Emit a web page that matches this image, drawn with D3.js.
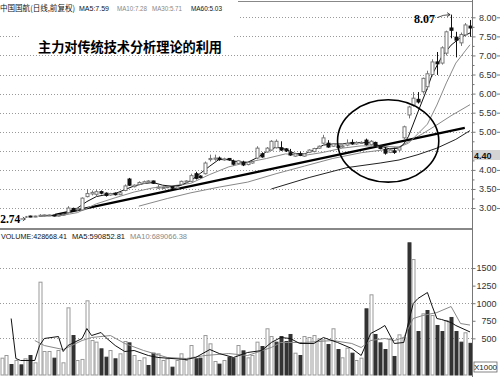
<!DOCTYPE html>
<html lang="zh">
<head>
<meta charset="UTF-8">
<title>中国国航 日线</title>
<script src="https://cdn.jsdelivr.net/npm/d3@7"></script>
<style>
  body { margin: 0; background: #fff; }
  svg { display: block; }
  .hdr { font-family: "Liberation Sans", Arial, sans-serif; font-size: 8px; }
  .cjk { font-family: "Noto Sans CJK SC", sans-serif; }
  .grid line { stroke: #999; stroke-width: 1; stroke-dasharray: 1, 2; }
  .axis text { font-family: "Liberation Sans", Arial, sans-serif; font-size: 9px; fill: #333; }
  .axis line { stroke: #777; }
  .axis path { display: none; }
</style>
</head>
<body>
<div id="chart"></div>
<script>
// daily candles (price in yuan)
var open  = [2.78,2.79,2.80,2.77,2.79,2.76,2.79,2.77,2.78,2.80,2.81,2.82,2.79,2.82,2.88,2.99,2.95,2.95,3.30,3.37,
             3.36,3.43,3.39,3.34,3.39,3.35,3.46,3.76,3.56,3.62,3.65,3.68,3.71,3.52,3.52,3.54,3.56,3.52,3.62,3.68,
             3.70,3.90,3.84,3.90,4.27,4.28,4.31,4.26,4.30,4.22,4.17,4.20,4.14,4.18,4.31,4.42,4.47,4.52,4.58,4.58,
             4.55,4.45,4.36,4.42,4.36,4.46,4.48,4.57,4.70,4.70,4.62,4.63,4.60,4.65,4.72,4.68,4.70,4.78,4.66,4.72,
             4.62,4.54,4.46,4.50,4.52,4.84,5.44,5.70,5.85,6.05,6.18,6.50,6.83,6.80,7.06,7.72,7.48,7.33,7.54,7.77];
var high  = [2.80,2.81,2.80,2.80,2.80,2.79,2.80,2.80,2.84,2.83,2.83,2.83,2.83,2.85,3.05,3.01,3.00,3.28,3.50,3.46,
             3.48,3.46,3.41,3.40,3.41,3.42,3.62,3.79,3.62,3.70,3.72,3.73,3.72,3.62,3.56,3.58,3.57,3.57,3.72,3.73,
             3.90,3.95,3.86,4.22,4.40,4.40,4.35,4.32,4.31,4.27,4.26,4.24,4.22,4.25,4.62,4.46,4.60,4.78,4.80,4.75,
             4.57,4.55,4.45,4.48,4.44,4.54,4.58,4.64,4.92,4.78,4.70,4.66,4.66,4.80,4.80,4.75,4.75,4.82,4.78,4.74,
             4.64,4.60,4.55,4.58,4.62,5.16,5.68,6.04,6.04,6.42,6.60,6.90,7.09,7.24,7.65,8.07,7.62,7.60,7.85,7.93];
var low   = [2.76,2.77,2.76,2.76,2.75,2.74,2.76,2.76,2.77,2.78,2.79,2.78,2.78,2.80,2.86,2.93,2.93,2.94,3.28,3.33,
             3.30,3.36,3.30,3.32,3.33,3.34,3.44,3.58,3.54,3.60,3.63,3.66,3.63,3.50,3.50,3.52,3.50,3.51,3.60,3.66,
             3.68,3.75,3.78,3.88,4.22,4.24,4.24,4.24,4.24,4.12,4.15,4.10,4.12,4.16,4.28,4.32,4.45,4.50,4.56,4.50,
             4.47,4.37,4.34,4.36,4.34,4.44,4.46,4.55,4.68,4.58,4.60,4.57,4.58,4.62,4.66,4.66,4.68,4.64,4.64,4.60,
             4.54,4.40,4.44,4.42,4.46,4.80,5.35,5.66,5.74,6.00,6.10,6.45,6.49,6.76,7.00,7.45,6.95,7.25,7.50,7.49];
var close = [2.79,2.80,2.77,2.79,2.76,2.78,2.77,2.79,2.81,2.82,2.82,2.79,2.82,2.84,3.00,2.95,2.98,3.26,3.38,3.41,
             3.43,3.39,3.33,3.38,3.35,3.40,3.58,3.60,3.60,3.67,3.69,3.71,3.65,3.55,3.54,3.56,3.52,3.56,3.70,3.71,
             3.85,3.78,3.80,4.18,4.30,4.31,4.27,4.29,4.26,4.15,4.24,4.13,4.20,4.22,4.57,4.34,4.57,4.75,4.75,4.52,
             4.50,4.39,4.42,4.38,4.42,4.52,4.56,4.62,4.84,4.60,4.68,4.59,4.63,4.70,4.68,4.72,4.72,4.66,4.75,4.62,
             4.56,4.44,4.52,4.46,4.58,5.13,5.65,5.88,5.78,6.40,6.52,6.83,6.78,7.20,7.62,7.66,7.40,7.55,7.80,7.72];

// volume in thousands of lots, and whether the bar is drawn hollow (up) or solid (down)
var volume = [218,256,128,185,123,209,256,152,1299,313,313,218,327,152,934,540,185,200,1034,469,
              446,351,232,327,209,280,455,436,256,185,223,114,289,280,185,209,90,185,280,185,
              398,209,218,540,422,171,133,185,232,218,398,322,223,256,446,384,636,526,446,526,
              455,555,289,256,526,512,540,493,479,412,636,341,223,360,289,185,218,920,1119,555,
              436,341,493,242,550,507,1859,1621,597,849,896,825,683,597,754,797,597,446,579,429];
var volUp = "HHDHDHDHHHHDHHHDHHHHHDDHDHHDHHHDDHHHDHHHHDDHHHDHDDHDHHHDHHDDDDHDHHHHHDHDHHDHHDHDDDHDHHDHDHDHDDHDDDHD";

// moving averages: [bar index, value]
var ma5  = [[8,2.79],[12,2.81],[14,2.90],[16,3.00],[18,3.17],[20,3.30],[22,3.35],[24,3.38],[26,3.48],[28,3.58],
            [30,3.64],[32,3.67],[34,3.60],[36,3.57],[38,3.60],[40,3.72],[42,3.91],[44,4.10],[46,4.28],[48,4.27],
            [50,4.21],[52,4.20],[54,4.32],[56,4.48],[58,4.60],[60,4.54],[62,4.43],[64,4.42],[66,4.52],[68,4.65],
            [70,4.68],[72,4.68],[74,4.71],[76,4.72],[78,4.71],[80,4.63],[82,4.55],[84,4.57],[85,4.68],[86,4.88],
            [88,5.52],[90,6.15],[91,6.50],[93,6.96],[95,7.27],[97,7.47],[99,7.59]];
var ma10 = [[12,2.79],[16,2.88],[20,3.11],[24,3.27],[28,3.42],[32,3.53],[36,3.58],[40,3.65],[44,3.88],[48,4.08],
            [52,4.20],[56,4.30],[60,4.42],[64,4.38],[68,4.46],[72,4.57],[76,4.63],[80,4.62],[84,4.60],[86,4.70],
            [88,4.95],[90,5.20],[92,5.70],[94,6.28],[96,6.80],[98,7.12],[99,7.28]];
var ma30 = [[29,3.05],[35,3.25],[40,3.40],[46,3.55],[52,3.68],[58,3.90],[64,4.10],[70,4.30],[76,4.45],[81,4.53],
            [84,4.60],[86,4.74],[89,4.95],[92,5.18],[95,5.42],[99,5.71]];
var ma60 = [[57,3.50],[65,3.80],[73,4.06],[80,4.18],[84,4.26],[88,4.40],[92,4.57],[96,4.80],[99,5.03]];
var volMa5  = [[2,782],[3,213],[4,185],[7,185],[8,398],[9,498],[12,526],[13,313],[14,398],[17,498],[18,640],[19,540],
               [21,583],[22,512],[24,398],[26,313],[28,327],[31,256],[33,228],[36,213],[39,199],[41,228],[44,341],
               [46,284],[49,228],[52,299],[55,327],[57,441],[59,512],[61,498],[63,427],[66,427],[68,512],[71,441],
               [74,356],[76,256],[78,569],[80,640],[81,683],[83,427],[85,441],[86,730],[87,995],[88,1067],[90,1152],
               [91,958],[92,782],[93,768],[95,725],[96,683],[99,591]];
var volMa10 = [[7,469],[9,398],[13,341],[17,469],[19,512],[23,540],[26,427],[30,327],[35,228],[39,213],[43,256],
               [48,284],[52,256],[57,370],[59,441],[64,441],[70,469],[74,427],[76,370],[78,469],[81,498],[83,469],
               [85,512],[87,782],[89,825],[92,867],[95,953],[97,711],[99,689]];

// hand drawn annotations: trend line ends, ellipse centre and half sizes
var trendLine = [[11.3,2.82],[97.9,5.10]];
var ellipseCentre = [81.7,4.76];
var ellipseHalf = [10.7,1.08];

var priceTicks = [3,3.5,4,4.5,5,5.5,6,6.5,7,7.5,8];
var priceLabels = [3,3.5,4,5,5.5,6,6.5,7,7.5,8];
var priceMinor = [3.25,3.75,4.25,4.75,5.25,5.75,6.25,6.75,7.25,7.75];
var lastPrice = 4.40;
var volTicks = [500,750,1000,1250,1500];
var volGrid = [500,1000,1500];

var svgWidth = 500, svgHeight = 377, axisX = 472;
var svg = d3.select('#chart').append('svg')
  .attr('width', svgWidth).attr('height', svgHeight);

var x = d3.scaleLinear().domain([0, 99]).range([1.7, 470]);
var yP = d3.scaleLinear().domain([3, 8]).range([208.05, 17.3]);
var yV = d3.scaleLinear().domain([0, 1500]).range([373.5, 268.05]);

// grids
var grid = svg.append('g').attr('class', 'grid');
grid.selectAll('.gp').data(priceTicks).enter().append('line')
  .attr('x1', 0).attr('x2', axisX)
  .attr('y1', d => Math.round(yP(d)) + 0.5).attr('y2', d => Math.round(yP(d)) + 0.5);
grid.selectAll('.gv').data(volGrid).enter().append('line')
  .attr('x1', 0).attr('x2', axisX)
  .attr('y1', d => Math.round(yV(d)) + 0.5).attr('y2', d => Math.round(yV(d)) + 0.5);

// header and title boxes hide the grid behind them
svg.append('rect').attr('x', 0).attr('y', 0).attr('width', 238).attr('height', 25).attr('fill', '#fff');
svg.append('rect').attr('x', 20).attr('y', 26).attr('width', 213).attr('height', 27).attr('fill', '#fff');
svg.append('line').attr('x1', 238).attr('x2', svgWidth).attr('y1', 1.5).attr('y2', 1.5)
  .attr('stroke', '#888').attr('stroke-width', 1);

function hdrText(parent, xPos, len, color, str, cls) {
  parent.append('tspan').attr('x', xPos).attr('fill', color)
    .attr('textLength', len).attr('lengthAdjust', 'spacingAndGlyphs')
    .attr('class', cls || null).text(str);
}
var hdr = svg.append('text').attr('class', 'hdr').attr('y', 11);
hdrText(hdr, 0, 75, '#111', '中国国航(日线,前复权)', 'cjk');
hdrText(hdr, 79, 30, '#111', 'MA5:7.59');
hdrText(hdr, 117, 30, '#888', 'MA10:7.28');
hdrText(hdr, 152, 30, '#888', 'MA30:5.71');
hdrText(hdr, 191, 31, '#111', 'MA60:5.03');

svg.append('text')
  .attr('x', 38).attr('y', 52)
  .attr('class', 'cjk')
  .style('font-size', '13.2px').style('font-weight', 700).attr('fill', '#000')
  .attr('textLength', 184)
  .text('主力对传统技术分析理论的利用');

// price lines
var lineP = d3.line().x(d => x(d[0])).y(d => yP(d[1]));
var lineV = d3.line().x(d => x(d[0])).y(d => yV(d[1]));

svg.append('path').datum(ma60).attr('d', lineP).attr('fill', 'none').attr('stroke', '#222').attr('stroke-width', 1);
svg.append('path').datum(ma30).attr('d', lineP).attr('fill', 'none').attr('stroke', '#888').attr('stroke-width', 1);
svg.append('path').datum(trendLine).attr('d', lineP).attr('fill', 'none').attr('stroke', '#000').attr('stroke-width', 2.2);
svg.append('path').datum(ma10).attr('d', lineP).attr('fill', 'none').attr('stroke', '#8a8a8a').attr('stroke-width', 1);
svg.append('path').datum(ma5).attr('d', lineP).attr('fill', 'none').attr('stroke', '#111').attr('stroke-width', 1);

// candles
var idx = d3.range(close.length);
var candle = svg.append('g').selectAll('g').data(idx).enter().append('g');
candle.append('line')
  .attr('x1', i => Math.round(x(i)) + 0.5).attr('x2', i => Math.round(x(i)) + 0.5)
  .attr('y1', i => yP(high[i])).attr('y2', i => yP(low[i]))
  .attr('stroke', i => close[i] >= open[i] ? '#777' : '#111');
candle.append('rect')
  .attr('x', i => Math.round(x(i)) - 1)
  .attr('y', i => yP(Math.max(open[i], close[i])))
  .attr('width', 3)
  .attr('height', i => Math.max(1, Math.abs(yP(open[i]) - yP(close[i]))))
  .attr('fill', i => close[i] >= open[i] ? '#fff' : '#111')
  .attr('stroke', i => close[i] >= open[i] ? '#777' : '#111')
  .attr('stroke-width', 1);

// ellipse round the consolidation
svg.append('ellipse')
  .attr('cx', x(ellipseCentre[0])).attr('cy', yP(ellipseCentre[1]))
  .attr('rx', x(ellipseCentre[0] + ellipseHalf[0]) - x(ellipseCentre[0]))
  .attr('ry', yP(ellipseCentre[1] - ellipseHalf[1]) - yP(ellipseCentre[1]))
  .attr('fill', 'none').attr('stroke', '#000').attr('stroke-width', 1.6);

// high / low callouts
var hiIdx = high.indexOf(d3.max(high)), loIdx = low.indexOf(d3.min(low));
var hx = x(hiIdx), hy = yP(high[hiIdx]);
svg.append('text').attr('x', hx - 16).attr('y', hy + 8.5)
  .attr('text-anchor', 'end')
  .style('font-family', '"Liberation Serif", serif').style('font-weight', 700).style('font-size', '12px')
  .text(d3.format('.2f')(high[hiIdx]));
svg.append('path')
  .attr('d', `M${hx - 14},${hy + 3} Q${hx - 8},${hy} ${hx - 1},${hy}`)
  .attr('fill', 'none').attr('stroke', '#222').attr('stroke-width', 0.8);
svg.append('path')
  .attr('d', `M${hx - 4},${hy - 2} L${hx - 1},${hy} L${hx - 4},${hy + 2}`)
  .attr('fill', 'none').attr('stroke', '#222').attr('stroke-width', 0.8);

var lx = x(loIdx), ly = yP(low[loIdx]);
svg.append('rect').attr('x', 0).attr('y', ly - 6).attr('width', lx).attr('height', 12).attr('fill', '#fff');
svg.append('text').attr('x', lx - 5).attr('y', ly + 5)
  .attr('text-anchor', 'end')
  .style('font-family', '"Liberation Serif", serif').style('font-weight', 700).style('font-size', '11.5px')
  .text(d3.format('.2f')(low[loIdx]));
svg.append('path')
  .attr('d', `M${lx - 5},${ly + 1} L${lx},${ly + 1} M${lx - 2.5},${ly - 1} L${lx},${ly + 1} L${lx - 2.5},${ly + 3}`)
  .attr('fill', 'none').attr('stroke', '#222').attr('stroke-width', 0.8);

// separator between price and volume panels
svg.append('line').attr('x1', 0).attr('x2', svgWidth).attr('y1', 229).attr('y2', 229)
  .attr('stroke', '#888').attr('stroke-width', 2);

var vh = svg.append('text').attr('class', 'hdr').attr('y', 238.5);
hdrText(vh, 1, 66, '#111', 'VOLUME:428668.41');
hdrText(vh, 72, 53, '#111', 'MA5:590852.81');
hdrText(vh, 130, 57, '#888', 'MA10:689066.38');

// volume bars
svg.append('g').selectAll('rect').data(idx).enter().append('rect')
  .attr('x', i => Math.round(x(i)) - 1)
  .attr('y', i => yV(volume[i]))
  .attr('width', 3)
  .attr('height', i => 375 - yV(volume[i]))
  .attr('fill', i => volUp[i] === 'H' ? '#fff' : '#333')
  .attr('stroke', i => volUp[i] === 'H' ? '#999' : '#333')
  .attr('stroke-width', 1);

svg.append('path').datum(volMa10).attr('d', lineV).attr('fill', 'none').attr('stroke', '#888').attr('stroke-width', 1);
svg.append('path').datum(volMa5).attr('d', lineV).attr('fill', 'none').attr('stroke', '#111').attr('stroke-width', 1);

// right axis
svg.append('rect').attr('x', axisX).attr('y', 0).attr('width', svgWidth - axisX).attr('height', svgHeight).attr('fill', '#fff');
svg.append('line').attr('x1', axisX + 0.5).attr('x2', axisX + 0.5).attr('y1', 0).attr('y2', svgHeight)
  .attr('stroke', '#777').attr('stroke-width', 1);

svg.append('g').attr('class', 'axis').attr('transform', `translate(${axisX + 0.5},0)`)
  .call(d3.axisRight(yP).tickValues(priceTicks).tickSize(3).tickFormat(''));
var pAxis = svg.append('g').attr('class', 'axis').attr('transform', `translate(${axisX + 0.5},0)`)
  .call(d3.axisRight(yP).tickValues(priceLabels).tickSize(0).tickFormat(d3.format('.2f')));
pAxis.selectAll('text').attr('x', 24).attr('text-anchor', 'end');
svg.append('g').attr('class', 'axis').attr('transform', `translate(${axisX + 0.5},0)`)
  .call(d3.axisRight(yP).tickValues(priceMinor).tickSize(2).tickFormat(''));
svg.append('g').attr('class', 'axis').attr('transform', `translate(${svgWidth},0)`)
  .call(d3.axisLeft(yP).tickValues(priceLabels).tickSize(3).tickFormat(''));

var vAxis = svg.append('g').attr('class', 'axis').attr('transform', `translate(${axisX + 0.5},0)`)
  .call(d3.axisRight(yV).tickValues(volTicks).tickSize(3).tickFormat(d3.format('d')));
vAxis.selectAll('text').attr('x', 24).attr('text-anchor', 'end');

// last price marker
var mark = svg.append('g').attr('transform', `translate(${axisX + 1},${Math.round(yP(lastPrice))})`);
mark.append('rect').attr('x', 0).attr('y', -5).attr('width', svgWidth - axisX - 1).attr('height', 10).attr('fill', '#d4d4d4');
mark.append('text').attr('x', 1).attr('y', 3.5)
  .style('font-family', '"Liberation Sans", Arial, sans-serif').style('font-size', '9px').style('font-weight', 700)
  .attr('fill', '#111').text(d3.format('.2f')(lastPrice));

// unit box
var unit = svg.append('g').attr('transform', 'translate(474,362)');
unit.append('rect').attr('width', 23).attr('height', 10).attr('fill', '#fff').attr('stroke', '#666').attr('stroke-width', 0.8);
unit.append('text').attr('x', 11.5).attr('y', 8).attr('text-anchor', 'middle')
  .style('font-family', '"Liberation Sans", Arial, sans-serif').style('font-size', '8px').attr('fill', '#222')
  .text('X1000');
</script>
</body>
</html>
